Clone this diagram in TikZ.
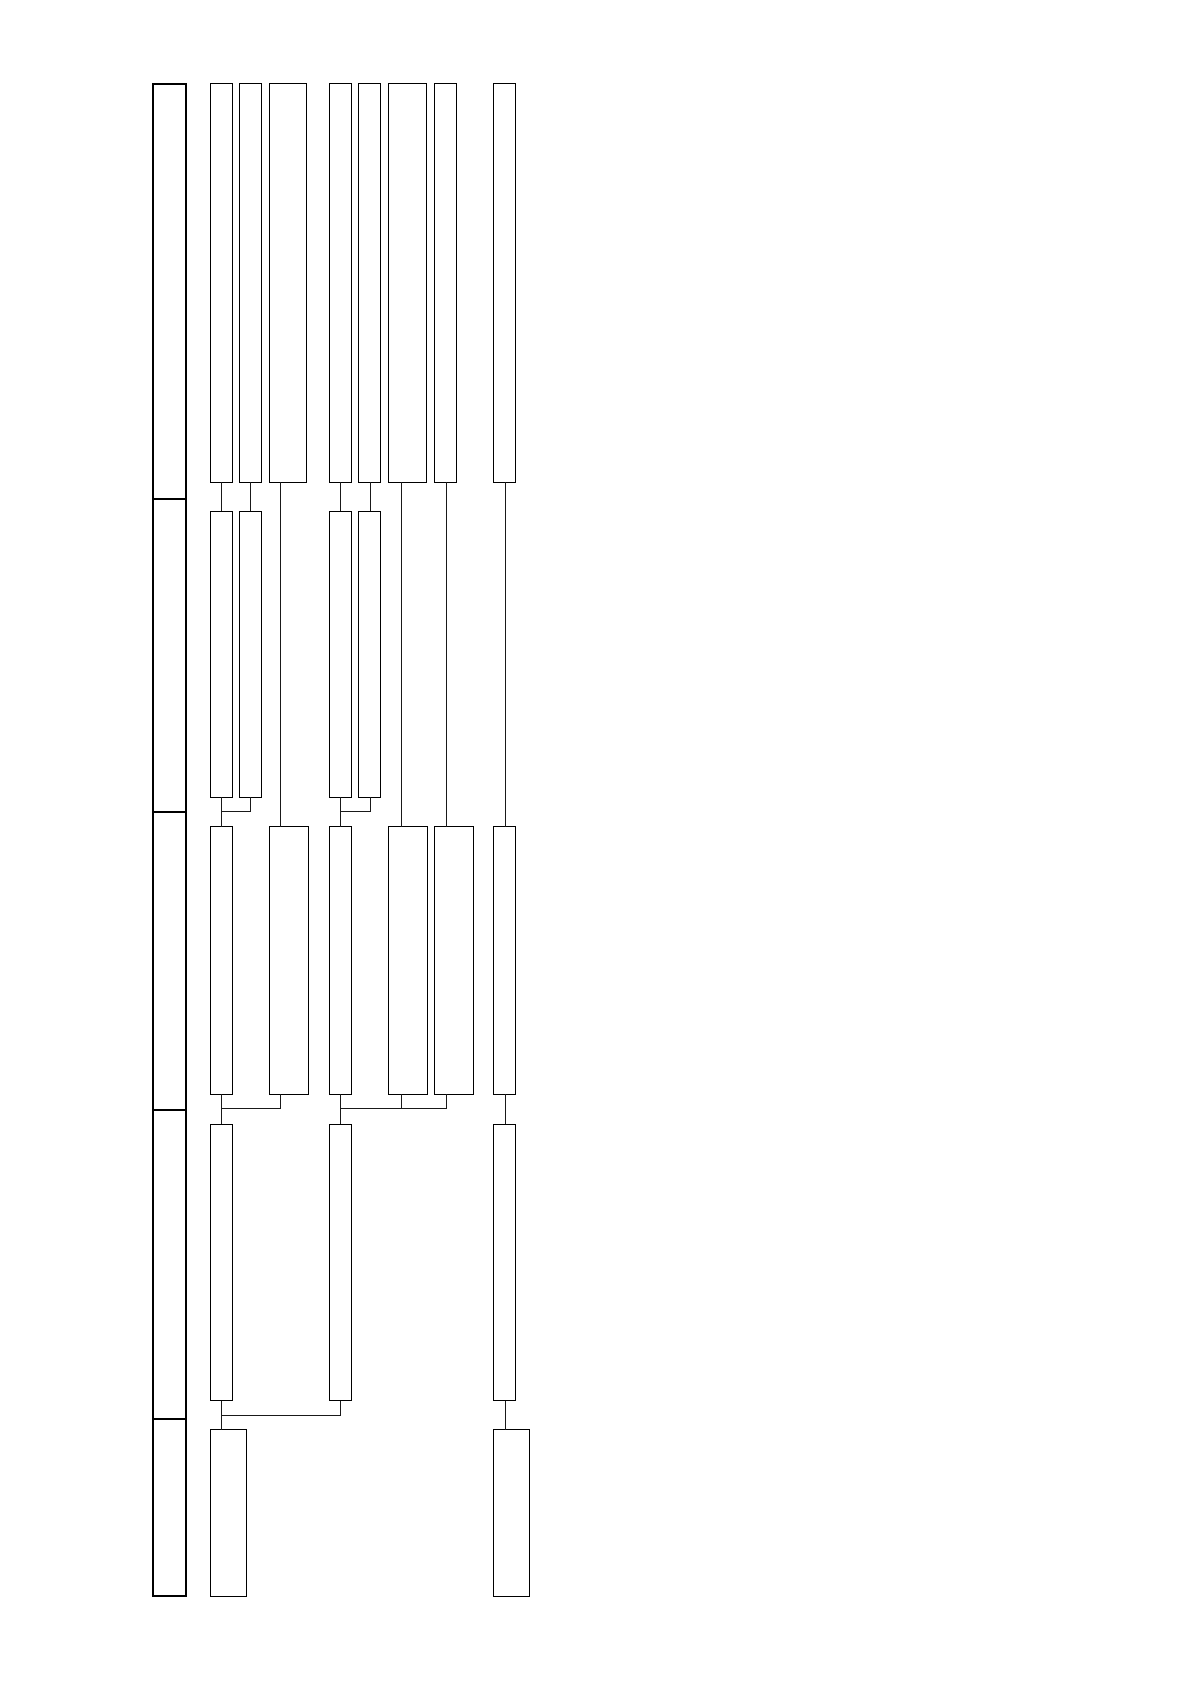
\documentclass[tikz,border=0pt]{standalone}
\usetikzlibrary{calc}
\tikzset{
  box/.style={draw=black, line width=0.4pt, inner sep=0pt, outer sep=0pt, fill=white},
  thickbox/.style={draw=black, line width=0.85pt, inner sep=0pt, outer sep=0pt},
  conn/.style={draw=black!90, line width=0.4pt}
}
\newcommand{\bx}[6]{\node[#1, minimum width={(#5-#3)*0.5pt}, minimum height={(#6-#4)*0.5pt}] (#2) at ({(#3+#5)/2},{(#4+#6)/2}) {};}
\begin{document}
\begin{tikzpicture}[x=0.5pt,y=-0.5pt]
\useasboundingbox (0,0) rectangle (1190,1682);
% left column
\bx{thickbox}{L1}{153.3}{84}{186}{499}
\bx{thickbox}{L2}{153.3}{499}{186}{811.7}
\bx{thickbox}{L3}{153.3}{811.7}{186}{1110}
\bx{thickbox}{L4}{153.3}{1110}{186}{1419}
\bx{thickbox}{L5}{153.3}{1419}{186}{1596}
% connector x positions
\coordinate (k1) at (221.3,0);
\coordinate (k2) at (250.8,0);
\coordinate (k3) at (280.3,0);
\coordinate (k4) at (340.3,0);
\coordinate (k5) at (370.8,0);
\coordinate (k6) at (401.3,0);
\coordinate (k7) at (446.3,0);
\coordinate (k8) at (505.0,0);
\coordinate (J2) at (0,811);
\coordinate (J3) at (0,1108.3);
\coordinate (J4) at (0,1415);
% row 1
\bx{box}{r1c1}{210}{83.5}{232}{482.3}
\bx{box}{r1c2}{239.3}{83.5}{261.3}{482.3}
\bx{box}{r1c3}{269.3}{83.5}{306.7}{482.3}
\bx{box}{r1c4}{329.3}{83.5}{351.3}{482.3}
\bx{box}{r1c5}{358.3}{83.5}{380.3}{482.3}
\bx{box}{r1c6}{388.3}{83.5}{426}{482.3}
\bx{box}{r1c7}{434.3}{83.5}{456.3}{482.3}
\bx{box}{r1c8}{493.3}{83.5}{515.3}{482.3}
% row 2
\bx{box}{r2c1}{210}{511.3}{232}{797}
\bx{box}{r2c2}{239.3}{511.3}{261.3}{797}
\bx{box}{r2c4}{329.3}{511.3}{351.3}{797}
\bx{box}{r2c5}{358.3}{511.3}{380.3}{797}
% row 3
\bx{box}{r3c1}{210}{826.5}{232}{1094.3}
\bx{box}{r3c3}{269.3}{826.5}{308.3}{1094.3}
\bx{box}{r3c4}{329.3}{826.5}{351.3}{1094.3}
\bx{box}{r3c6}{388.3}{826.5}{427.3}{1094.3}
\bx{box}{r3c7}{434.3}{826.5}{473.3}{1094.3}
\bx{box}{r3c8}{493.3}{826.5}{515.3}{1094.3}
% row 4
\bx{box}{r4c1}{210}{1124}{232}{1400.7}
\bx{box}{r4c4}{329.3}{1124}{351.3}{1400.7}
\bx{box}{r4c8}{493.3}{1124}{515.3}{1400.7}
% row 5
\bx{box}{r5c1}{210}{1429.5}{246.3}{1596}
\bx{box}{r5c8}{493.3}{1429.5}{529.3}{1596}
% connectors row1 -> row2
\draw[conn] (r1c1.south -| k1) -- (r2c1.north -| k1);
\draw[conn] (r1c2.south -| k2) -- (r2c2.north -| k2);
\draw[conn] (r1c4.south -| k4) -- (r2c4.north -| k4);
\draw[conn] (r1c5.south -| k5) -- (r2c5.north -| k5);
% row1 -> row3 direct
\draw[conn] (r1c3.south -| k3) -- (r3c3.north -| k3);
\draw[conn] (r1c6.south -| k6) -- (r3c6.north -| k6);
\draw[conn] (r1c7.south -| k7) -- (r3c7.north -| k7);
\draw[conn] (r1c8.south -| k8) -- (r3c8.north -| k8);
% row2 -> row3
\draw[conn] (r2c1.south -| k1) -- (r3c1.north -| k1);
\draw[conn] (r2c2.south -| k2) -- (J2 -| k2) -- (J2 -| k1);
\draw[conn] (r2c4.south -| k4) -- (r3c4.north -| k4);
\draw[conn] (r2c5.south -| k5) -- (J2 -| k5) -- (J2 -| k4);
% row3 -> row4
\draw[conn] (r3c1.south -| k1) -- (r4c1.north -| k1);
\draw[conn] (r3c3.south -| k3) -- (J3 -| k3) -- (J3 -| k1);
\draw[conn] (r3c4.south -| k4) -- (r4c4.north -| k4);
\draw[conn] (r3c6.south -| k6) -- (J3 -| k6);
\draw[conn] (r3c7.south -| k7) -- (J3 -| k7) -- (J3 -| k4);
\draw[conn] (r3c8.south -| k8) -- (r4c8.north -| k8);
% row4 -> row5
\draw[conn] (r4c1.south -| k1) -- (r5c1.north -| k1);
\draw[conn] (r4c4.south -| k4) -- (J4 -| k4) -- (J4 -| k1);
\draw[conn] (r4c8.south -| k8) -- (r5c8.north -| k8);
\end{tikzpicture}
\end{document}
